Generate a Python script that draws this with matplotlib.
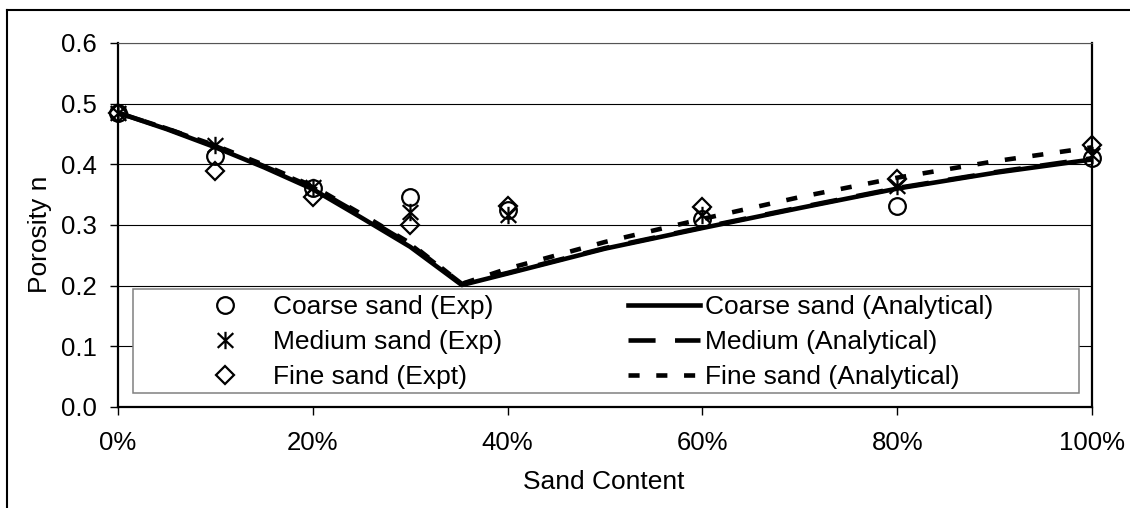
import matplotlib
matplotlib.use("Agg")
import matplotlib.pyplot as plt
from matplotlib.path import Path
from matplotlib.lines import Line2D
from matplotlib.patches import Rectangle
from matplotlib.ticker import PercentFormatter, MultipleLocator, FormatStrFormatter

plt.rcParams['font.family'] = ['Liberation Sans', 'DejaVu Sans']

# Experimental porosity vs. sand content
sand_exp = [0.0, 0.1, 0.2, 0.3, 0.4, 0.6, 0.8, 1.0]
coarse_exp = [0.485, 0.414, 0.361, 0.346, 0.325, 0.310, 0.331, 0.410]
medium_exp = [0.485, 0.432, 0.363, 0.322, 0.316, 0.317, 0.365, 0.415]
fine_exp = [0.485, 0.389, 0.346, 0.300, 0.331, 0.330, 0.376, 0.432]

# Analytical porosity curves
sand_an = [0.0, 0.05, 0.10, 0.15, 0.20, 0.25, 0.30, 0.353, 0.40, 0.50, 0.60, 0.70, 0.80, 0.90, 1.0]
coarse_an = [0.485, 0.458, 0.428, 0.395, 0.359, 0.312, 0.264, 0.201, 0.220, 0.261, 0.295, 0.328, 0.360, 0.386, 0.408]
medium_an = [0.485, 0.459, 0.430, 0.397, 0.362, 0.316, 0.268, 0.203, 0.221, 0.262, 0.296, 0.329, 0.361, 0.387, 0.410]
fine_an = [0.485, 0.459, 0.431, 0.399, 0.364, 0.318, 0.270, 0.203, 0.228, 0.272, 0.310, 0.346, 0.378, 0.405, 0.428]

exp_labels = ["Coarse sand (Exp)", "Medium sand (Exp)", "Fine sand (Expt)"]
an_labels = ["Coarse sand (Analytical)", "Medium (Analytical)", "Fine sand (Analytical)"]

W, H = 1130, 508
fig = plt.figure(figsize=(W / 100, H / 100), dpi=100)
ax = fig.add_axes([118 / W, 1 - 407 / H, (1092 - 118) / W, (407 - 43) / H])

# asterisk marker: vertical bar plus a cross
star = Path([(0, -1), (0, 1), (-0.9, -0.85), (0.9, 0.85), (-0.9, 0.85), (0.9, -0.85)],
            [Path.MOVETO, Path.LINETO, Path.MOVETO, Path.LINETO, Path.MOVETO, Path.LINETO])

mk = dict(linestyle='none', color='black', markerfacecolor='none', markeredgewidth=1.6, clip_on=False)
h1, = ax.plot(sand_exp, coarse_exp, marker='o', markersize=12, label=exp_labels[0], zorder=3, **mk)
h2, = ax.plot(sand_exp, medium_exp, marker=star, markersize=12.5, label=exp_labels[1], zorder=3, **mk)
h3, = ax.plot(sand_exp, fine_exp, marker='D', markersize=9, label=exp_labels[2], zorder=3, **mk)

lw = 3.3
h4, = ax.plot(sand_an, coarse_an, color='black', lw=lw, solid_joinstyle='round', label=an_labels[0], zorder=4)
h5, = ax.plot(sand_an, medium_an, color='black', lw=lw, linestyle=(0, (19.5 / lw, 14 / lw)),
              dash_capstyle='butt', label=an_labels[1], zorder=4)
h6, = ax.plot(sand_an, fine_an, color='black', lw=lw, linestyle=(0, (8 / lw, 12 / lw)),
              dash_capstyle='butt', label=an_labels[2], zorder=4)

ax.set_xlim(0, 1)
ax.set_ylim(0, 0.6)
ax.xaxis.set_major_locator(MultipleLocator(0.2))
ax.xaxis.set_major_formatter(PercentFormatter(1.0, decimals=0))
ax.yaxis.set_major_locator(MultipleLocator(0.1))
ax.yaxis.set_major_formatter(FormatStrFormatter('%.1f'))
ax.tick_params(axis='both', labelsize=18.5, direction='out', length=6, width=1, color='black')
ax.tick_params(axis='y', pad=9)
ax.tick_params(axis='x', pad=11)

ax.set_axisbelow(True)
ax.grid(axis='y', color='black', lw=0.8)
for side in ('left', 'bottom', 'right'):
    ax.spines[side].set_linewidth(1.6)
    ax.spines[side].set_color('black')
ax.spines['top'].set_linewidth(0.8)
ax.spines['top'].set_color('#555555')

fig.text(40 / W, 1 - 234 / H, "Porosity n", rotation=90, ha='center', va='center', fontsize=19)
fig.text(604 / W, 1 - 482 / H, "Sand Content", ha='center', va='center', fontsize=19)

# legend box
ax.add_patch(Rectangle((133 / W, 1 - 393 / H), (1079 - 133) / W, (393 - 289) / H,
                       transform=fig.transFigure, facecolor='white', edgecolor='#808080',
                       lw=1.1, zorder=2.5, clip_on=False))
fs = 19
px_em = fs * 100 / 72
leg1 = ax.legend(handles=[h1, h2, h3], loc='center left', bbox_to_anchor=(189 / W, 1 - 342 / H),
                 bbox_transform=fig.transFigure, frameon=False, fontsize=fs, numpoints=1,
                 handlelength=72 / px_em, handletextpad=12 / px_em, borderpad=0, borderaxespad=0,
                 labelspacing=0.42)
ax.add_artist(leg1)
leg2 = ax.legend(handles=[h4, h5, h6], loc='center left', bbox_to_anchor=(628 / W, 1 - 342 / H),
                 bbox_transform=fig.transFigure, frameon=False, fontsize=fs,
                 handlelength=72 / px_em, handletextpad=5 / px_em, borderpad=0, borderaxespad=0,
                 labelspacing=0.42)
leg1.set_zorder(6)
leg2.set_zorder(6)

# outer chart frame (top and left edges)
fig.add_artist(Line2D([7 / W, 1.0], [1 - 10 / H, 1 - 10 / H], transform=fig.transFigure, color='black', lw=1.5))
fig.add_artist(Line2D([7 / W, 7 / W], [1 - 10 / H, 0.0], transform=fig.transFigure, color='black', lw=1.5))

fig.savefig("out.png", dpi=100, facecolor='white')
